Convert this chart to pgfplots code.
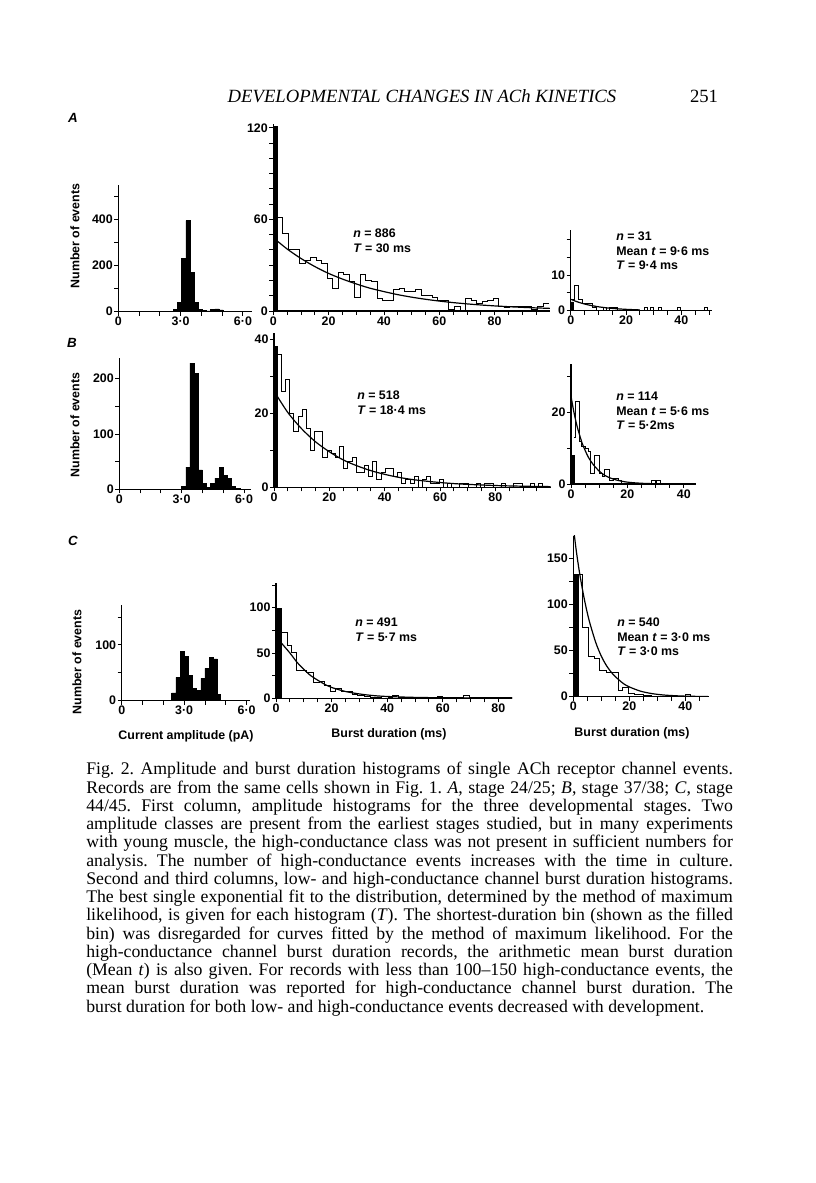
\documentclass[border=0pt]{standalone}
\usepackage{fontspec}
\setmainfont{Liberation Serif}
\setsansfont{Liberation Sans}
\usepackage{pgfplots}
\pgfplotsset{compat=1.18}
\newcommand\lab{\fontsize{9.3}{10.8}\selectfont\sffamily\bfseries}
\pgfplotsset{
  hist/.style={scale only axis, anchor=south west, xmin=0, ymin=0,
    axis x line=bottom, axis y line=left, axis line style={-, line width=0.8pt},
    tick align=outside, major tick length=3pt, minor tick length=3pt,
    every tick/.append style={black, line width=0.7pt},
    tick label style={font=\lab, inner sep=1pt},
  },
  step/.style={const plot, black, line width=0.75pt, mark=none},
  filled/.style={const plot, fill=black, draw=black, line width=0.4pt, mark=none},
  fit/.style={black, line width=0.9pt, smooth, mark=none},
}
\begin{document}
\frenchspacing
\begin{tikzpicture}[x=0.75pt, y=0.75pt]
\useasboundingbox[fill=white] (0,0) rectangle (816,1183);

% ---------------- row A ----------------
\begin{axis}[hist, at={(88.725pt,653.475pt)}, width=100.5pt, height=95pt,
  xmax=6.45, ymax=550,
  xtick={0,3,6}, xticklabels={0,3·0,6·0}, minor xtick={1,2,4,5},
  ytick={0,200,400}, yticklabels={0,200,400}, minor ytick={100,300,500}]
\addplot[filled] coordinates {(2.45,3)(2.65,10)(2.85,40)(3.05,230)(3.25,395)(3.45,170)(3.65,40)(3.85,10)(4.05,5)(4.25,4)(4.45,10)(4.65,12)(4.85,8)(5.05,3)(5.25,0)} \closedcycle;
\end{axis}

\begin{axis}[hist, at={(204.975pt,654pt)}, width=207.5pt, height=140.3pt,
  xmax=100, ymax=122.5,
  xtick={0,20,40,60,80}, xticklabels={0,20,40,60,80},
  minor xtick={5,10,15,25,30,35,45,50,55,65,70,75,85,90,95},
  ytick={0,60,120}, yticklabels={0,60,120},
  minor ytick={10,20,30,40,50,70,80,90,100,110}]
\addplot[filled] coordinates {(0,121)(1.5,0)} \closedcycle;
\addplot[step] coordinates {(1.5,61)(3.5,51)(5.5,40)(7.5,40)(9.5,31)(11.5,33)(13.5,35)(15.5,33)(17.5,31)(19.5,21)
 (21.5,15)(23.5,25)(25.5,24)(27.5,19)(29.5,9)(31.5,24)(33.5,20)(35.5,19)(37.5,8)(39.5,7)
 (41.5,7)(43.5,14)(45.5,15)(47.5,13)(49.5,13)(51.5,14)(53.5,10)(55.5,10)(57.5,9)(59.5,7)
 (61.5,7)(63.5,1)(65.5,3)(67.5,0)(69.5,8)(71.5,7)(73.5,5)(75.5,6)(77.5,7)(79.5,8)
 (81.5,3)(83.5,2)(85.5,3)(87.5,3)(89.5,3)(91.5,3)(93.5,1)(95.5,3)(97.5,5)(99.5,5)};
\addplot[fit] coordinates {(0,48)(5,40.6)(10,34.4)(15,29.1)(20,24.6)(25,20.9)(30,17.7)(35,14.9)(40,12.7)(45,10.7)
 (50,9.07)(55,7.67)(60,6.50)(65,5.50)(70,4.66)(75,3.94)(80,3.34)(85,2.82)(90,2.39)(95,2.02)(100,1.71)};
\end{axis}

\begin{axis}[hist, at={(428.025pt,654.225pt)}, width=105.8pt, height=60.2pt,
  xmax=51, ymax=22.5,
  xtick={0,20,40}, xticklabels={0,20,40}, minor xtick={5,10,15,25,30,35,45,50},
  ytick={0,10}, yticklabels={0,10}, minor ytick={5,15,20}]
\addplot[filled] coordinates {(0,2.5)(0.8,0)} \closedcycle;
\addplot[step] coordinates {(0,3)(1.3,7)(2.8,3)(4.3,2)(8,1)(9.3,0)(11.8,1)(12.8,0)(14,1)(17,0)
 (26.8,1)(27.8,0)(28.8,1)(29.8,0)(31.8,1)(32.8,0)(38.7,1)(39.7,0)(48.5,1)(49.5,0)(51,0)};
\addplot[fit] coordinates {(0,3.2)(2,2.59)(4,2.09)(6,1.69)(8,1.37)(10,1.10)(12,0.89)(14,0.72)(16,0.58)(18,0.47)(20,0.38)(22,0.31)(25,0.22)};
\end{axis}

% ---------------- row B ----------------
\begin{axis}[hist, at={(89.475pt,520.275pt)}, width=99pt, height=98.3pt,
  xmax=6.35, ymax=237,
  xtick={0,3,6}, xticklabels={0,3·0,6·0}, minor xtick={1,2,4,5},
  ytick={0,100,200}, yticklabels={0,100,200}, minor ytick={50,150}]
\addplot[filled] coordinates {(3.0,5)(3.2,40)(3.4,228)(3.6,210)(3.8,35)(4.0,10)(4.2,3)(4.4,10)(4.6,20)(4.8,40)(5.0,25)(5.2,20)(5.4,5)(5.6,2)(5.8,0)} \closedcycle;
\end{axis}

\begin{axis}[hist, at={(205.5pt,521.775pt)}, width=207.5pt, height=115.5pt,
  xmax=100, ymax=41.6,
  xtick={0,20,40,60,80}, xticklabels={0,20,40,60,80},
  minor xtick={5,10,15,25,30,35,45,50,55,65,70,75,85,90,95},
  ytick={0,20,40}, yticklabels={0,20,40}, minor ytick={10,30}]
\addplot[filled] coordinates {(0,38)(1.2,0)} \closedcycle;
\addplot[step] coordinates {(1.2,36)(2.7,26)(4.2,29)(5.7,20)(7.2,15)(8.7,19)(10.2,21)(11.7,16)(13.2,10)(14.7,15)
 (16.2,15)(17.7,8)(19.2,10)(20.7,9)(22.2,8)(23.7,11)(25.2,5)(26.7,7)(28.2,8)(29.7,4)
 (31.2,4)(32.7,6)(34.2,3)(35.7,7)(37.2,2)(38.7,4)(40.2,5)(41.7,5)(43.2,3)(44.7,4)
 (46.2,1)(47.7,2)(49.2,1)(50.7,3)(52.2,0)(53.7,2)(55.2,3)(56.7,1)(58.2,1)(59.7,2)
 (61.2,0)(62.7,1)(64.2,0)(67.2,1)(68.7,1)(70.2,0)(73.2,1)(74.7,0)(76.2,1)(77.7,1)
 (79.2,0)(82.2,1)(83.7,0)(86.7,1)(88.2,1)(89.7,0)(92.7,1)(94.2,0)(95.7,1)(97.2,0)(100,0)};
\addplot[fit] coordinates {(0,26)(5,20.2)(10,15.8)(15,12.3)(20,9.6)(25,7.4)(30,5.8)(35,4.5)(40,3.5)(45,2.7)
 (50,2.1)(55,1.66)(60,1.29)(65,1.0)(70,0.79)(80,0.48)(90,0.29)(100,0.18)};
\end{axis}

\begin{axis}[hist, at={(428.25pt,524.25pt)}, width=94.1pt, height=90pt,
  xmax=44.5, ymax=33.5,
  xtick={0,20,40}, xticklabels={0,20,40}, minor xtick={5,10,15,25,30,35},
  ytick={0,20}, yticklabels={0,20}, minor ytick={10,30}]
\addplot[filled] coordinates {(0,8)(1,0)} \closedcycle;
\addplot[step] coordinates {(1,13)(1.7,23)(3,12)(3.8,10.5)(5,10)(6.2,9)(7,3)(8.5,8)(10,3)(11,2)
 (12,4)(13.5,1)(15,1.5)(17,1)(18,0)(28.7,1)(30,0)(30.5,1)(31.8,0)(33,0)};
\addplot[fit] coordinates {(0,24.5)(1,20.2)(2,16.6)(3,13.8)(4,11.3)(5,9.4)(6,7.7)(7,6.4)(8,5.3)(10,3.6)
 (12,2.4)(14,1.66)(16,1.13)(18,0.77)(20,0.52)(22,0.36)(25,0.20)(28,0.11)};
\end{axis}

% ---------------- row C ----------------
\begin{axis}[hist, at={(91.275pt,361.725pt)}, width=96.2pt, height=71.9pt,
  xmax=6.16, ymax=172,
  xtick={0,3,6}, xticklabels={0,3·0,6·0}, minor xtick={1,2,4,5},
  ytick={0,100}, yticklabels={0,100}, minor ytick={50,150}]
\addplot[filled] coordinates {(2.4,14)(2.6,42)(2.8,88)(3.0,80)(3.2,45)(3.4,22)(3.6,18)(3.8,40)(4.0,58)(4.2,78)(4.4,75)(4.6,12)(4.75,0)} \closedcycle;
\end{axis}

\begin{axis}[hist, at={(207pt,363.525pt)}, width=177.2pt, height=86.3pt,
  xmax=85, ymax=127,
  xtick={0,20,40,60,80}, xticklabels={0,20,40,60,80},
  minor xtick={5,10,15,25,30,35,45,50,55,65,70,75},
  ytick={0,50,100}, yticklabels={0,50,100}, minor ytick={25,75,125}]
\addplot[filled] coordinates {(0,99)(2,0)} \closedcycle;
\addplot[step] coordinates {(2,73)(4,58)(5.5,51)(7.5,31)(11,29)(13.5,17)(15.5,19)(17.5,14)(19.5,8)(21.5,11)
 (23.5,8)(25.5,7)(27.5,4)(29.5,3.5)(32,2)(34,1)(38,2.5)(40.5,1)(42,3.5)(44,1)
 (46,0.5)(58,1.5)(60,0.5)(67.5,3)(69.5,0.5)(85,0.5)};
\addplot[fit] coordinates {(0,68)(2.5,59)(5,50)(7.5,40)(10,32)(12.5,25)(15,20)(17.5,15.5)(20,12)(25,7.5)
 (30,4.8)(35,3)(40,2)(50,1)(60,0.6)(70,0.4)(85,0.3)};
\end{axis}

\begin{axis}[hist, at={(429.975pt,364.725pt)}, width=101.9pt, height=120.8pt,
  xmax=48.5, ymax=175,
  xtick={0,20,40}, xticklabels={0,20,40}, minor xtick={5,10,15,25,30,35,45},
  ytick={0,50,100,150}, yticklabels={0,50,100,150}, minor ytick={25,75,125}]
\addplot[filled] coordinates {(0,133)(1.8,0)} \closedcycle;
\addplot[step] coordinates {(0,133)(3.4,75)(5.6,44)(7.4,42)(9.5,28)(12,26)(16,7)(17.7,10)(19.8,4)(22,2)
 (25,1)(28,0.5)(40,2)(42,0.5)(48.5,0.5)};
\addplot[fit] coordinates {(0,185)(1,160)(2,139)(3,121)(4,105)(5,91)(6,79)(8,59)(10,44)(12,33)
 (14,25)(16,19)(18,14)(20,10.6)(24,6)(28,3.4)(32,1.9)(36,1.1)(40,0.6)(44,0.35)(48,0.2)};
\end{axis}

% ---------------- labels ----------------
\node[font=\fontsize{14}{16}\selectfont\itshape] at (422,1087) {DEVELOPMENTAL CHANGES IN ACh KINETICS};
\node[font=\fontsize{14}{16}\selectfont] at (704,1087) {251};

\node[font=\fontsize{10}{12}\selectfont\sffamily\bfseries\itshape] at (73,1065) {A};
\node[font=\fontsize{10}{12}\selectfont\sffamily\bfseries\itshape] at (72,840) {B};
\node[font=\fontsize{10}{12}\selectfont\sffamily\bfseries\itshape] at (73,642) {C};

\node[rotate=90, font=\lab] at (75,947) {Number of events};
\node[rotate=90, font=\lab] at (75,758) {Number of events};
\node[rotate=90, font=\lab] at (77,521) {Number of events};

\node[font=\lab] at (186,447) {Current amplitude (pA)};
\node[font=\lab] at (389,449) {Burst duration (ms)};
\node[font=\lab] at (632,450) {Burst duration (ms)};

\node[anchor=north west, inner sep=0, align=left, font=\lab] at (353,954) {\textit{n} = 886\\\textit{T} = 30 ms};
\node[anchor=north west, inner sep=0, align=left, font=\lab] at (616,951) {\textit{n} = 31\\Mean \textit{t} = 9·6 ms\\\textit{T} = 9·4 ms};
\node[anchor=north west, inner sep=0, align=left, font=\lab] at (357,792) {\textit{n} = 518\\\textit{T} = 18·4 ms};
\node[anchor=north west, inner sep=0, align=left, font=\lab] at (616,791) {\textit{n} = 114\\Mean \textit{t} = 5·6 ms\\\textit{T} = 5·2ms};
\node[anchor=north west, inner sep=0, align=left, font=\lab] at (355,565) {\textit{n} = 491\\\textit{T} = 5·7 ms};
\node[anchor=north west, inner sep=0, align=left, font=\lab] at (617,565) {\textit{n} = 540\\Mean \textit{t} = 3·0 ms\\\textit{T} = 3·0 ms};

\node[anchor=north west, inner sep=0, text width=485pt, align=justify,
  font=\fontsize{13.3}{13.7}\selectfont] at (86,421) {\frenchspacing\hyphenpenalty=10000\exhyphenpenalty=10000
Fig. 2. Amplitude and burst duration histograms of single ACh receptor channel events.\linebreak
Records are from the same cells shown in Fig. 1. \textit{A}, stage 24/25; \textit{B}, stage 37/38; \textit{C}, stage\linebreak
44/45. First column, amplitude histograms for the three developmental stages. Two\linebreak
amplitude classes are present from the earliest stages studied, but in many experiments\linebreak
with young muscle, the high-conductance class was not present in sufficient numbers for\linebreak
analysis. The number of high-conductance events increases with the time in culture.\linebreak
Second and third columns, low- and high-conductance channel burst duration histograms.\linebreak
The best single exponential fit to the distribution, determined by the method of maximum\linebreak
likelihood, is given for each histogram (\textit{T}). The shortest-duration bin (shown as the filled\linebreak
bin) was disregarded for curves fitted by the method of maximum likelihood. For the\linebreak
high-conductance channel burst duration records, the arithmetic mean burst duration\linebreak
(Mean \textit{t}) is also given. For records with less than 100–150 high-conductance events, the\linebreak
mean burst duration was reported for high-conductance channel burst duration. The\linebreak
burst duration for both low- and high-conductance events decreased with development.};
\end{tikzpicture}
\end{document}
